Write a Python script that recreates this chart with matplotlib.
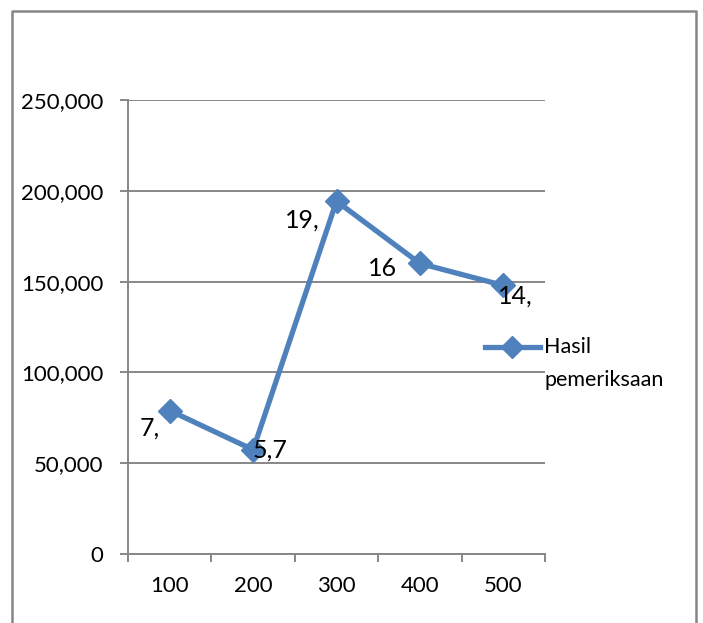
import matplotlib.pyplot as plt
from matplotlib.lines import Line2D

W, H = 703, 623

categories = ['100', '200', '300', '400', '500']
values = [79000, 57400, 194300, 160000, 147900]
value_labels = ['7,', '5,7', '19,', '16', '14,']
y_ticks = [0, 50000, 100000, 150000, 200000, 250000]
y_tick_labels = ['0', '50,000', '100,000', '150,000', '200,000', '250,000']
series_name = ['Hasil', 'pemeriksaan']

blue = '#4F81BD'
grey = '#878787'
plt.rcParams['font.family'] = ['Lato', 'DejaVu Sans']

fig = plt.figure(figsize=(W / 100, H / 100), dpi=100)

# outer chart frame (open at the bottom)
frame = Line2D([12 / W, 12 / W, 696 / W, 696 / W],
               [0, 1 - 11 / H, 1 - 11 / H, 0],
               transform=fig.transFigure, color=grey, lw=1.8)
fig.add_artist(frame)

left, right, top, bottom = 128, 545, 100, 554
ax = fig.add_axes([left / W, 1 - bottom / H, (right - left) / W, (bottom - top) / H])

x = list(range(len(categories)))
ax.set_xlim(-0.5, len(categories) - 0.5)
ax.set_ylim(0, 250000)

ax.set_yticks(y_ticks)
ax.set_yticklabels(y_tick_labels, fontsize=16)
ax.yaxis.grid(True, color=grey, lw=1.4)
ax.set_axisbelow(True)

ax.set_xticks([i - 0.5 for i in range(len(categories) + 1)])
ax.set_xticklabels([])
ax.set_xticks(x, minor=True)
ax.set_xticklabels(categories, minor=True, fontsize=16)
ax.tick_params(axis='x', which='minor', length=0, pad=16)
ax.tick_params(axis='x', which='major', length=5.5, width=1.4, color=grey, direction='out')
ax.tick_params(axis='y', length=5.5, width=1.4, color=grey, direction='out', pad=12)

for side in ['top', 'right']:
    ax.spines[side].set_visible(False)
for side in ['left', 'bottom']:
    ax.spines[side].set_color(grey)
    ax.spines[side].set_linewidth(1.4)

ax.plot(x, values, color=blue, lw=3.8, marker='D', markersize=12,
        solid_joinstyle='miter')

# data labels around each point (offsets in pixels)
offsets = [(-10, -18, 'right'), (-1, 0, 'left'), (-17, -19, 'right'),
           (-23, -5, 'right'), (-5, -11, 'left')]
for xi, v, lab, (dx, dy, ha) in zip(x, values, value_labels, offsets):
    ax.annotate(lab, (xi, v), xytext=(dx, dy), textcoords='offset pixels',
                ha=ha, va='center', fontsize=18)

# legend: handle lines up with the first line of the name
ly = 1 - 347 / H
fig.add_artist(Line2D([485 / W, 540 / W], [ly, ly], transform=fig.transFigure,
                      color=blue, lw=3.8))
fig.add_artist(Line2D([512 / W], [ly], transform=fig.transFigure, color=blue,
                      marker='D', markersize=11, lw=0))
fig.text(544 / W, ly, series_name[0], fontsize=15.5, va='center', ha='left')
fig.text(544 / W, 1 - 380 / H, series_name[1], fontsize=15.5, va='center', ha='left')

fig.savefig('out.png', dpi=100)
